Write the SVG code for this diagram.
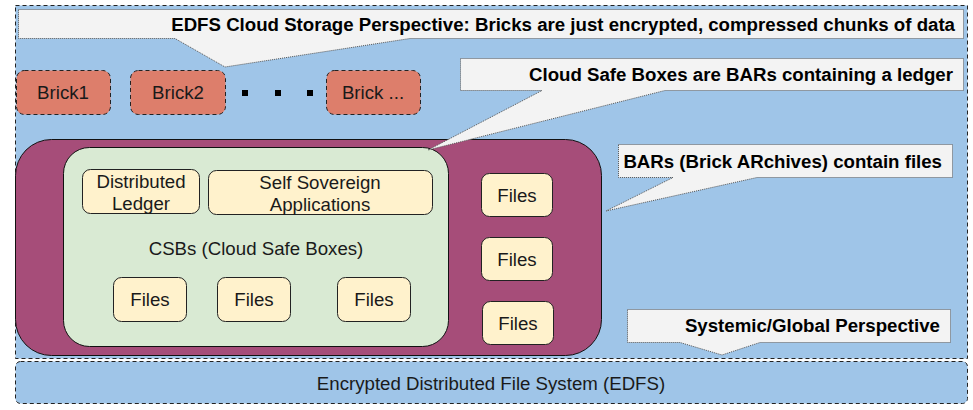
<svg xmlns="http://www.w3.org/2000/svg" width="973" height="410" viewBox="0 0 973 410">
<style>
text{font-family:"Liberation Sans",Arial,sans-serif;font-size:18.67px;fill:#1a1a1a}
.b{font-weight:bold;fill:#000}
.callout{fill:#f3f3f3;stroke:#555;stroke-width:1;stroke-dasharray:1 1}
.brick{fill:#dd7e6b;stroke:#222;stroke-width:1;stroke-dasharray:4 3}
.file{fill:#fff2cc;stroke:#222;stroke-width:1}
</style>
<rect id="space" x="15.5" y="5.5" width="952" height="353" fill="#9fc5e8" stroke="#222" stroke-dasharray="4 3"/>
<g id="edfs">
<rect x="15.5" y="361.5" width="952" height="42" rx="5" fill="#9fc5e8" stroke="#222" stroke-dasharray="4 3"/>
<text x="491" y="390" text-anchor="middle">Encrypted Distributed File System (EDFS)</text>
</g>
<g id="bricks">
<g id="brick1"><rect class="brick" x="16.5" y="70.5" width="94" height="44" rx="8"/><text x="63" y="99" text-anchor="middle">Brick1</text></g>
<g id="brick2"><rect class="brick" x="130.5" y="70.5" width="95" height="44" rx="8"/><text x="178" y="99" text-anchor="middle">Brick2</text></g>
<g id="dots" fill="#000"><rect x="242" y="90" width="6" height="6"/><rect x="275" y="90" width="6" height="6"/><rect x="307" y="90" width="6" height="6"/></g>
<g id="brickN"><rect class="brick" x="326.5" y="70.5" width="94" height="44" rx="8"/><text x="373" y="99" text-anchor="middle">Brick ...</text></g>
</g>
<g id="bar">
<rect x="15.5" y="139.5" width="586" height="216" rx="36" fill="#a64d79" stroke="#111"/>
<g id="csb">
<rect x="63.5" y="147.5" width="385" height="199" rx="26" fill="#d9ead3" stroke="#111"/>
<text x="256" y="255" text-anchor="middle">CSBs (Cloud Safe Boxes)</text>
</g>
<g id="ledger"><rect class="file" x="82.5" y="169.5" width="117" height="44" rx="8"/><text x="141" y="188" text-anchor="middle">Distributed</text><text x="141" y="210" text-anchor="middle">Ledger</text></g>
<g id="ssapps"><rect class="file" x="208.5" y="170.5" width="224" height="44" rx="8"/><text x="320" y="189" text-anchor="middle">Self Sovereign</text><text x="320" y="211" text-anchor="middle">Applications</text></g>
<g id="cf1"><rect class="file" x="113.5" y="277.5" width="73" height="44" rx="8"/><text x="150" y="306" text-anchor="middle">Files</text></g>
<g id="cf2"><rect class="file" x="217.5" y="277.5" width="73" height="44" rx="8"/><text x="254" y="306" text-anchor="middle">Files</text></g>
<g id="cf3"><rect class="file" x="337.5" y="277.5" width="73" height="44" rx="8"/><text x="374" y="306" text-anchor="middle">Files</text></g>
<g id="bf1"><rect class="file" x="481.5" y="173.5" width="71" height="43" rx="8"/><text x="517" y="202" text-anchor="middle">Files</text></g>
<g id="bf2"><rect class="file" x="481.5" y="237.5" width="71" height="43" rx="8"/><text x="517" y="266" text-anchor="middle">Files</text></g>
<g id="bf3"><rect class="file" x="482.5" y="301.5" width="71" height="43" rx="8"/><text x="518" y="330" text-anchor="middle">Files</text></g>
</g>
<g id="callouts">
<g id="c1"><path class="callout" d="M18.5 9.5 H963.5 V38.5 H410 L225 67 L175 38.5 H18.5 Z"/><text class="b" x="955" y="31" text-anchor="end">EDFS Cloud Storage Perspective: Bricks are just encrypted, compressed chunks of data</text></g>
<g id="c2"><path class="callout" d="M460.5 58.5 H963.5 V90.5 H665 L428 150 L542 90.5 H460.5 Z"/><text class="b" x="953" y="81" text-anchor="end">Cloud Safe Boxes are BARs containing a ledger</text></g>
<g id="c3"><path class="callout" d="M618.5 144.5 H952.5 V177.5 H757 L606 211 L673 177.5 H618.5 Z"/><text class="b" x="942" y="168" text-anchor="end">BARs (Brick ARchives) contain files</text></g>
<g id="c4"><path class="callout" d="M627.5 309.5 H950.5 V342.5 H760 L722 355 L680 342.5 H627.5 Z"/><text class="b" x="940" y="332" text-anchor="end">Systemic/Global Perspective</text></g>
</g>
</svg>
